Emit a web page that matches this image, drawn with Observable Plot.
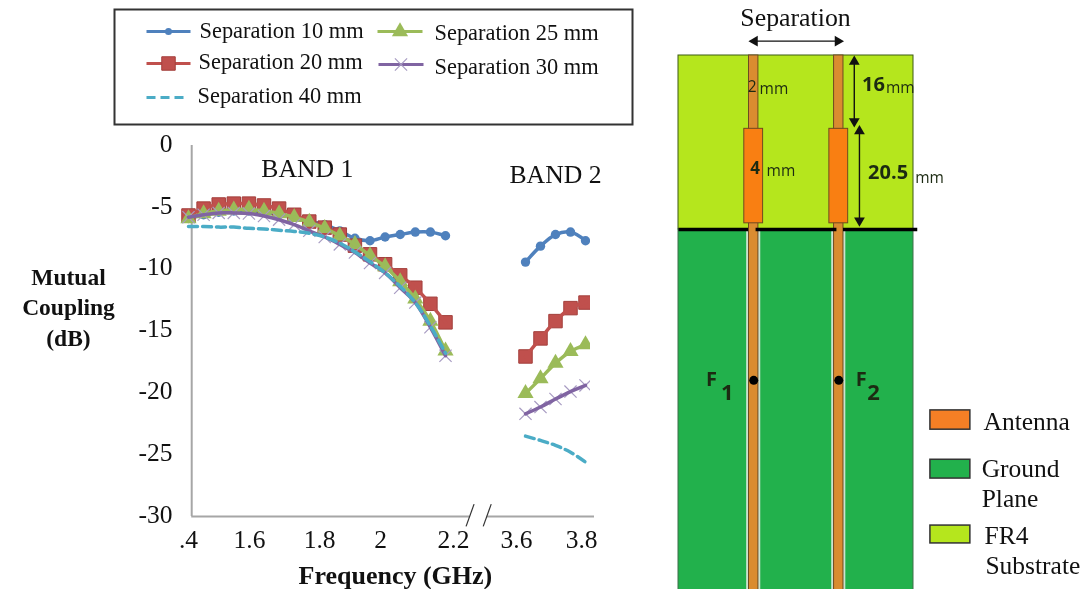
<!DOCTYPE html>
<html><head><meta charset="utf-8">
<script src="https://cdn.jsdelivr.net/npm/d3@7"></script>
<script src="https://cdn.jsdelivr.net/npm/@observablehq/plot@0.6"></script>
<style>
html,body{margin:0;padding:0;background:#fff}
#page{position:relative;width:1083px;height:589px;overflow:hidden}
#page>svg{position:absolute;overflow:visible;filter:blur(0.4px)}
</style></head><body><div id="page"></div>
<script>
// ---------- chart data (GHz, dB) ----------
const band1Freq = [1.4,1.447,1.494,1.541,1.588,1.635,1.682,1.729,1.776,1.824,1.871,1.918,1.965,2.012,2.059,2.106,2.153,2.2];
const band2Freq = [3.6,3.65,3.7,3.75,3.8];
const sep10Band1 = [-5.9,-5.6,-5.4,-5.3,-5.3,-5.4,-5.6,-5.8,-6.1,-6.4,-6.9,-7.5,-7.7,-7.4,-7.2,-7.0,-7.0,-7.3];
const sep20Band1 = [-5.66,-5.1,-4.77,-4.7,-4.7,-4.85,-5.1,-5.6,-6.15,-6.64,-7.2,-8.1,-8.8,-9.6,-10.5,-11.5,-12.8,-14.3];
const sep25Band1 = [-5.9,-5.5,-5.3,-5.2,-5.15,-5.3,-5.5,-5.8,-6.2,-6.7,-7.3,-8.0,-8.9,-9.8,-11,-12.4,-14.2,-16.6];
const sep30Band1 = [-5.8,-5.6,-5.45,-5.45,-5.5,-5.7,-6.0,-6.4,-6.9,-7.4,-8,-8.65,-9.5,-10.3,-11.5,-12.7,-14.7,-17.0];
const sep40Band1 = [-6.55,-6.55,-6.6,-6.6,-6.7,-6.75,-6.85,-6.95,-7.1,-7.4,-7.9,-8.6,-9.4,-10.3,-11.4,-12.7,-14.6,-16.8];
const sep10Band2 = [-9.43,-8.14,-7.2,-7.0,-7.7];
const sep20Band2 = [-17.06,-15.6,-14.2,-13.15,-12.7];
const sep25Band2 = [-20.05,-18.85,-17.6,-16.65,-16.1];
const sep30Band2 = [-21.7,-21.15,-20.5,-19.9,-19.4];
const sep40Band2 = [-23.5,-23.85,-24.25,-24.8,-25.6];

const seriesNames = ["Separation 10 mm","Separation 20 mm","Separation 25 mm","Separation 30 mm","Separation 40 mm"];
const seriesColors = ["#4F81BD","#C0504D","#9BBB59","#8064A2","#4BACC6"];
const seriesMarkers = ["circle","square","triangle","times",null];
const band1Values = [sep10Band1,sep20Band1,sep25Band1,sep30Band1,sep40Band1];
const band2Values = [sep10Band2,sep20Band2,sep25Band2,sep30Band2,sep40Band2];

const yTicks = [0,-5,-10,-15,-20,-25,-30];
const xTickLabels = [".4","1.6","1.8","2","2.2","3.6","3.8"];
const xTickSites = [1.4,1.59,1.808,1.998,2.34,3.4425,3.787];

const F = {serif:"'Liberation Serif','Times New Roman',serif", sans:"'Open Sans','Noto Sans',sans-serif"};
const markerStyle = {
  circle:{r:4.7},
  square:{r:7.6,strokeW:1,stroke:"#A33F3C"},
  triangle:{r:6},
  times:{r:5.6,strokeW:1.2,stroke:"#A79BC2"}
};
function markerOpts(i, scale=1){
  const kind = seriesMarkers[i], st = markerStyle[kind];
  const o = {symbol:kind, r:st.r*scale};
  if(kind==="times"){o.stroke=st.stroke;o.strokeWidth=st.strokeW;}
  else{o.fill=seriesColors[i]; if(st.stroke){o.stroke=st.stroke;o.strokeWidth=st.strokeW;}}
  return o;
}

// ---------- chart ----------
const chartTop = 125;
const rows = (fx, vals) => fx.map((f,i)=>({f, v:vals[i]}));
const seriesMarks = [];
seriesNames.forEach((name,i)=>{
  [rows(band1Freq,band1Values[i]), rows(band2Freq,band2Values[i])].forEach(d=>{
    if(seriesMarkers[i]) seriesMarks.push(Plot.dot(d,{x:"f",y:"v",clip:true,...markerOpts(i)}));
    seriesMarks.push(Plot.line(d,{x:"f",y:"v",stroke:seriesColors[i],strokeWidth:3.5,curve:"catmull-rom",clip:true,
      strokeDasharray:seriesMarkers[i]?null:"9 5"}));
  });
});

const chart = Plot.plot({
  width:640,height:464,
  marginLeft:170,marginRight:50,marginTop:0,marginBottom:0,
  style:{fontFamily:F.serif,background:"transparent",color:"#111"},
  x:{type:"linear",domain:[1.4,2.2,3.6,3.8],range:[188,445,525,585],axis:null},
  y:{domain:[0,-30],range:[145-chartTop,516-chartTop],axis:null},
  marks:[
    Plot.ruleX([1.41],{y1:0,y2:-30,stroke:"#A6A6A6",strokeWidth:2}),
    Plot.ruleY([-30],{x1:1.41,x2:2.63,stroke:"#A6A6A6",strokeWidth:2}),
    Plot.ruleY([-30],{x1:2.93,x2:3.83,stroke:"#A6A6A6",strokeWidth:2}),
    Plot.link([2.63,2.93],{x1:d=>d-0.07,x2:d=>d+0.07,y1:-30.8,y2:-29,stroke:"#333",strokeWidth:1.2}),
    ...seriesMarks,
    Plot.text(yTicks,{x:1.4,y:d=>d,text:d=>String(d),textAnchor:"end",dx:-16,dy:-2,fontSize:25.5,fill:"#111"}),
    Plot.text(xTickLabels,{x:(d,i)=>xTickSites[i],y:-30,text:d=>d,dy:23,fontSize:25.5,fill:"#111"}),
    Plot.text(["BAND 1"],{x:1.77,y:-1.85,text:d=>d,fontSize:25.7,fill:"#111"}),
    Plot.text(["BAND 2"],{x:3.7,y:-2.4,text:d=>d,fontSize:25.7,fill:"#111"}),
    Plot.text(["Frequency (GHz)"],{x:2.044,y:-30,text:d=>d,dy:59,fontSize:26,fontWeight:"bold",fill:"#111"}),
    Plot.text(["Mutual\nCoupling\n(dB)"],{x:1.4,y:-12.95,text:d=>d,dx:-120,fontSize:23.5,fontWeight:"bold",lineHeight:1.3,fill:"#111"})
  ]
});
chart.style.left="0px";chart.style.top=chartTop+"px";

// ---------- legend ----------
const legendOrder = [0,1,4,2,3];
const legendLineX = [[32,76],[32,76],[32,72],[263,308],[264,309]];
const legendLineY = [22,54,88,22,55];
const legendTextX = [85,84,83,320,320];
const legendTextY = [21,52,86,23,57];
const legendMarks = [Plot.frame({stroke:"#333",strokeWidth:2})];
legendOrder.forEach((s,k)=>{
  const row=[k];
  legendMarks.push(Plot.link(row,{x1:()=>legendLineX[k][0],x2:()=>legendLineX[k][1],y1:()=>legendLineY[k],y2:()=>legendLineY[k],
    stroke:seriesColors[s],strokeWidth:3,strokeDasharray:seriesMarkers[s]?null:"9 5"}));
  if(seriesMarkers[s]) legendMarks.push(Plot.dot(row,{x:()=>(legendLineX[k][0]+legendLineX[k][1])/2,y:()=>legendLineY[k],...markerOpts(s,s==0?0.75:1)}));
  legendMarks.push(Plot.text(row,{x:()=>legendTextX[k],y:()=>legendTextY[k],text:()=>seriesNames[s],textAnchor:"start",fontSize:22.4,fill:"#111"}));
});
const legend = Plot.plot({
  width:518,height:115,margin:0,
  style:{fontFamily:F.serif,background:"transparent"},
  x:{domain:[0,518],range:[0,518],axis:null},
  y:{domain:[0,115],range:[0,115],axis:null},
  marks:legendMarks
});
legend.style.left="114px";legend.style.top="9px";

// ---------- antenna layout (millimetres from the substrate's top-left corner) ----------
const boardWidth = 50, substrateLength = 37, boardBottom = 113.6;
const feedCentres = [16,34.1];
const feedWidth = 2, patchWidth = 4, feedLength = 15.6, patchEnd = 35.7;
const boardLine = [[0,14.8],[16.4,33.6],[35,50.8]];
const diagramSerif = [{t:"Separation",x:24.9,y:-8.1,a:"middle"},{t:"Antenna",x:64.9,y:77.9,a:"start"},{t:"Ground",x:64.5,y:87.9,a:"start"},{t:"Plane",x:64.5,y:94.3,a:"start"},{t:"FR4",x:65.1,y:102.1,a:"start"},{t:"Substrate",x:65.3,y:108.5,a:"start"}];
const diagramBold = [{t:"16",x:41.5,y:6.2,s:20},{t:"20.5",x:44.6,y:24.9,s:20},{t:"4",x:16.3,y:24,s:17},{t:"F",x:7,y:69,s:20},{t:"1",x:10.4,y:71.7,s:22},{t:"F",x:38.9,y:69,s:20},{t:"2",x:41.5,y:71.7,s:22}];
const diagramPlain = [{t:"mm",x:47.2,y:7},{t:"mm",x:53.4,y:26},{t:"mm",x:21.8,y:24.5},{t:"2",x:15.7,y:6.8},{t:"mm",x:20.3,y:7.2}];
const legendSwatches = [{c:"#F57F25",y1:75.5,y2:79.6},{c:"#22B14C",y1:86,y2:90},{c:"#B5E61D",y1:100,y2:103.8}];
const arrows = [{x1:16.2,x2:33.9,y1:-3.05,y2:-3.05,r:[270,90]},{x1:37.4,x2:37.4,y1:1.3,y2:14,r:[0,180]},{x1:38.5,x2:38.5,y1:16.1,y2:35.1,r:[0,180]}];

const feedRect = (x0,x1,y1,y2,fill) => Plot.rect([0],{x1:x0,x2:x1,y1,y2,fill,stroke:"#6E4A20",strokeWidth:1});
const diagram = Plot.plot({
  width:413,height:589,margin:0,
  style:{fontFamily:F.sans,background:"transparent"},
  x:{domain:[0,boardWidth],range:[8,243],axis:null},
  y:{domain:[0,boardBottom],range:[55,589],axis:null},
  marks:[
    Plot.rect([0],{x1:0,x2:boardWidth,y1:0,y2:substrateLength,fill:"#B5E61D",stroke:"#3D5A15",strokeWidth:1}),
    Plot.rect([0],{x1:0,x2:boardWidth,y1:substrateLength,y2:boardBottom+1,fill:"#22B14C",stroke:"#3F6F4A",strokeWidth:1}),
    ...feedCentres.map(c=>Plot.rect([0],{x1:c-1.5,x2:c+1.5,y1:substrateLength,y2:boardBottom+1,fill:"#CDE3CF"})),
    ...feedCentres.map(c=>feedRect(c-feedWidth/2,c+feedWidth/2,0,boardBottom+1,"#DA8C30")),
    ...feedCentres.map(c=>feedRect(c-patchWidth/2,c+patchWidth/2,feedLength,patchEnd,"#F97F12")),
    Plot.link(boardLine,{x1:d=>d[0],x2:d=>d[1],y1:substrateLength,y2:substrateLength,stroke:"#000",strokeWidth:3.5}),
    Plot.dot(feedCentres,{x:d=>d,y:69.1,r:4.5,fill:"#000"}),
    Plot.link(arrows,{x1:"x1",x2:"x2",y1:"y1",y2:"y2",stroke:"#111",strokeWidth:1.4}),
    Plot.dot(arrows,{x:"x1",y:"y1",rotate:d=>d.r[0],symbol:"triangle",r:4,fill:"#111"}),
    Plot.dot(arrows,{x:"x2",y:"y2",rotate:d=>d.r[1],symbol:"triangle",r:4,fill:"#111"}),
    ...diagramBold.map(d=>Plot.text([d],{x:"x",y:"y",text:"t",fontSize:d.s,fontWeight:"bold",fill:"#1c2a12"})),
    Plot.text(diagramPlain,{x:"x",y:"y",text:"t",fontSize:15.5,fill:"#1c2a12"}),
    Plot.text(diagramSerif,{x:"x",y:"y",text:"t",textAnchor:"start",fontFamily:F.serif,fontSize:25.5,fill:"#111",filter:d=>d.a==="start"}),
    Plot.text(diagramSerif,{x:"x",y:"y",text:"t",fontFamily:F.serif,fontSize:25.8,fill:"#111",filter:d=>d.a==="middle"}),
    Plot.rect(legendSwatches,{x1:53.6,x2:62.1,y1:"y1",y2:"y2",fill:"c",stroke:"#333",strokeWidth:1.5})
  ]
});
diagram.style.left="670px";diagram.style.top="0px";

const page=document.getElementById("page");
page.append(chart,legend,diagram);
</script></body></html>
